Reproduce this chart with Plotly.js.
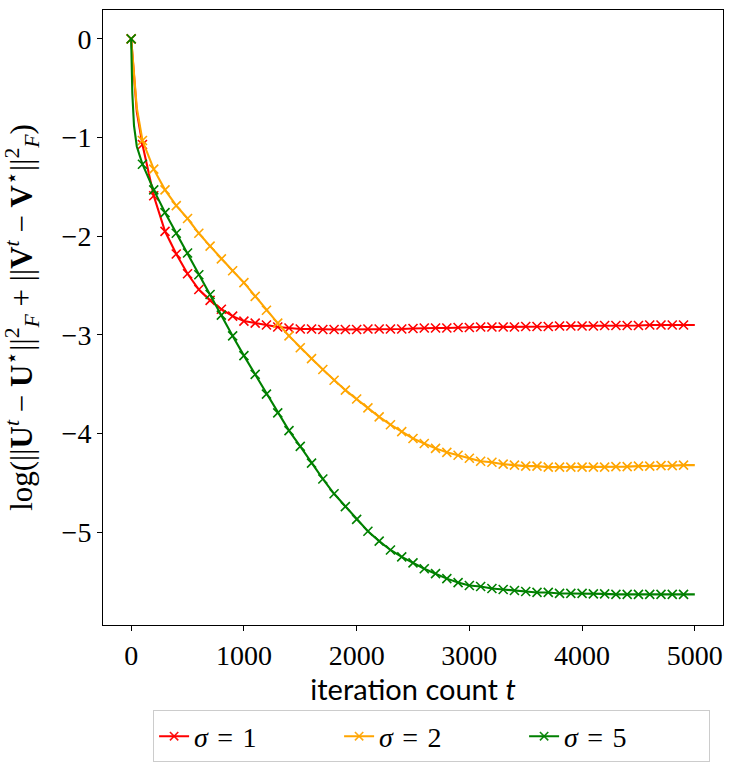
<!DOCTYPE html>
<html>
<head>
<meta charset="utf-8">
<script src="https://cdn.plot.ly/plotly-3.0.1.min.js"></script>
<style>html,body{margin:0;padding:0;background:#fff;}#chart{width:736px;height:773px;}</style>
</head>
<body>
<div id="chart"></div>
<script>
// iteration counts (extra early samples capture the initial drop)
const iterations = [0, 10, 25, 50, 100, 200, 300, 400, 500, 600, 700, 800, 900, 1000,
  1100, 1200, 1300, 1400, 1500, 1600, 1700, 1800, 1900, 2000,
  2100, 2200, 2300, 2400, 2500, 2600, 2700, 2800, 2900, 3000,
  3100, 3200, 3300, 3400, 3500, 3600, 3700, 3800, 3900, 4000,
  4100, 4200, 4300, 4400, 4500, 4600, 4700, 4800, 4900, 5000];

const sigma1 = [0, -0.16, -0.38, -0.74, -1.07, -1.59, -1.95, -2.18, -2.38, -2.54, -2.65, -2.74, -2.81, -2.86,
  -2.88, -2.90, -2.92, -2.93, -2.94, -2.94, -2.945, -2.945, -2.945, -2.945,
  -2.94, -2.94, -2.94, -2.94, -2.935, -2.93, -2.93, -2.93, -2.925, -2.925,
  -2.92, -2.92, -2.92, -2.92, -2.915, -2.915, -2.915, -2.91, -2.91, -2.91,
  -2.91, -2.905, -2.905, -2.905, -2.905, -2.90, -2.90, -2.90, -2.90, -2.90];

const sigma2 = [0, -0.15, -0.36, -0.70, -1.03, -1.32, -1.53, -1.69, -1.82, -1.97, -2.10, -2.23, -2.35, -2.47,
  -2.61, -2.75, -2.88, -3.01, -3.13, -3.24, -3.35, -3.46, -3.56, -3.65,
  -3.74, -3.83, -3.91, -3.98, -4.05, -4.10, -4.15, -4.19, -4.22, -4.25,
  -4.28, -4.29, -4.31, -4.32, -4.33, -4.33, -4.34, -4.34, -4.34, -4.34,
  -4.34, -4.34, -4.335, -4.335, -4.33, -4.33, -4.325, -4.325, -4.32, -4.32];

const sigma5 = [0, -0.55, -0.88, -1.09, -1.27, -1.53, -1.76, -1.97, -2.17, -2.39, -2.59, -2.80, -3.01, -3.21,
  -3.40, -3.60, -3.79, -3.97, -4.13, -4.30, -4.46, -4.61, -4.74, -4.87,
  -4.99, -5.09, -5.18, -5.25, -5.31, -5.37, -5.42, -5.47, -5.51, -5.54,
  -5.55, -5.57, -5.58, -5.59, -5.60, -5.61, -5.61, -5.62, -5.62, -5.62,
  -5.625, -5.625, -5.63, -5.63, -5.63, -5.63, -5.63, -5.63, -5.63, -5.63];

const seriesNames = ['<i>σ</i>\u2004=\u20041', '<i>σ</i>\u2004=\u20042', '<i>σ</i>\u2004=\u20045'];
const seriesColors = ['#ff0000', '#ffa500', '#008000'];
const xTicks = [0, 1000, 2000, 3000, 4000, 5000];
const yTicks = [0, -1, -2, -3, -4, -5];

// markers every 100 iterations up to 4900
const showMark = iterations.map(t => (t % 100 === 0 && t <= 4900));
const markSize = showMark.map(s => s ? 9 : 0);
const markOpacity = showMark.map(s => s ? 1 : 0);

const serifFont = 'Liberation Serif, DejaVu Serif, serif';

const traces = [sigma1, sigma2, sigma5].map((ys, i) => ({
  x: iterations,
  y: ys,
  type: 'scatter',
  mode: 'lines+markers',
  name: seriesNames[i],
  line: {color: seriesColors[i], width: 2.1},
  marker: {symbol: 'x-thin', size: markSize, opacity: markOpacity,
           color: seriesColors[i], line: {color: seriesColors[i], width: 1.6}}
}));

const layout = {
  width: 736, height: 773,
  margin: {l: 103, r: 13, t: 10, b: 146},
  paper_bgcolor: '#fff', plot_bgcolor: '#fff',
  showlegend: true,
  xaxis: {
    range: [-250, 5250], tickvals: xTicks, ticktext: xTicks.map(String),
    ticks: 'outside', ticklen: 5, tickwidth: 1, tickcolor: '#000',
    showline: true, mirror: true, linecolor: '#000', linewidth: 1,
    showgrid: false, zeroline: false,
    tickfont: {family: serifFont, size: 28, color: '#000'},
    title: {text: 'iteration count <i>t</i>', standoff: 6,
            font: {family: 'Lato, DejaVu Sans, sans-serif', size: 29, color: '#000'}}
  },
  yaxis: {
    range: [-5.94, 0.293], tickvals: yTicks, ticktext: yTicks.map(v => v === 0 ? '0' : '\u2212' + Math.abs(v)),
    ticks: 'outside', ticklen: 5, tickwidth: 1, tickcolor: '#000',
    showline: true, mirror: true, linecolor: '#000', linewidth: 1,
    showgrid: false, zeroline: false,
    tickfont: {family: serifFont, size: 28, color: '#000'},
    title: {text: 'log(||<b>U</b><sup><i>t</i></sup> \u2212 <b>U</b><sup>\u22c6</sup>||<sup>2</sup><sub><i>F</i></sub> + ||<b>V</b><sup><i>t</i></sup> \u2212 <b>V</b><sup>\u22c6</sup>||<sup>2</sup><sub><i>F</i></sub>)',
            standoff: 20,
            font: {family: serifFont, size: 31, color: '#000'}}
  },
  legend: {
    orientation: 'h', x: 0.53, xanchor: 'center', y: -0.139, yanchor: 'top',
    bordercolor: '#cccccc', borderwidth: 1, bgcolor: '#fff',
    font: {family: serifFont, size: 28, color: '#000'},
    entrywidth: 140, entrywidthmode: 'pixels', traceorder: 'normal'
  }
};

Plotly.newPlot('chart', traces, layout, {displayModeBar: false, staticPlot: true});
</script>
</body>
</html>
